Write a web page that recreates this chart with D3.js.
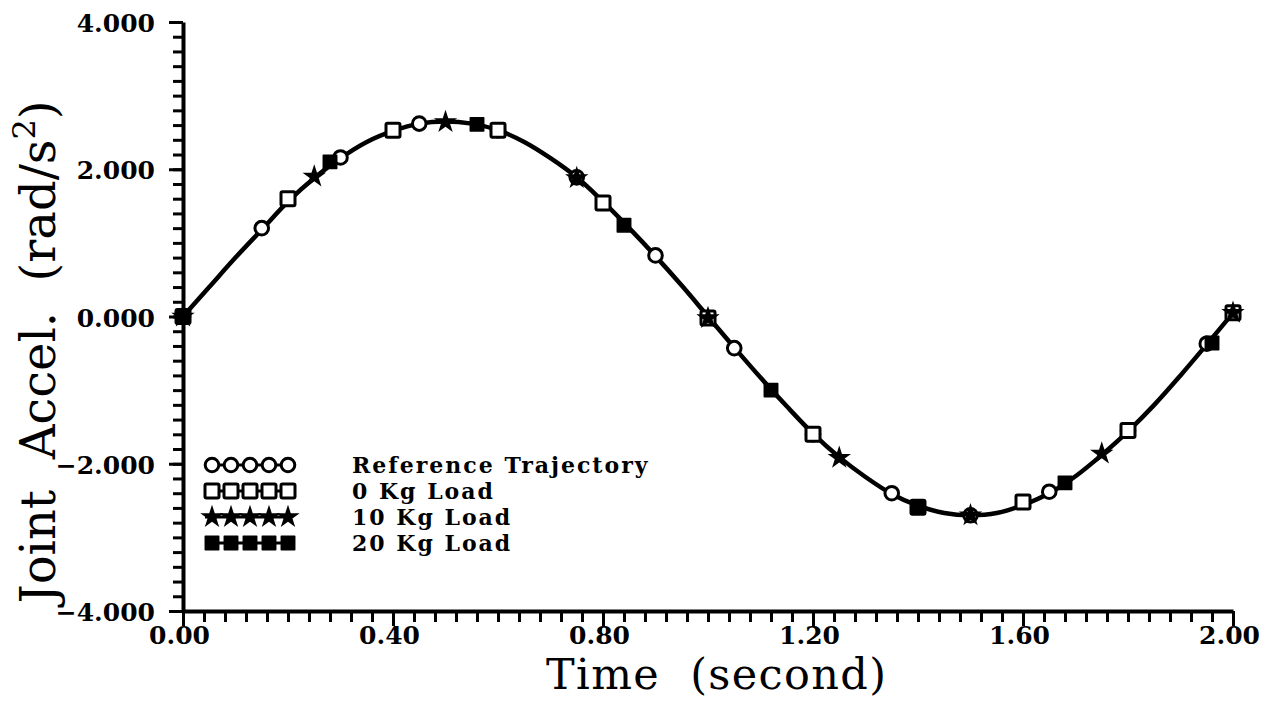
<!DOCTYPE html>
<html>
<head>
<meta charset="utf-8">
<script src="https://cdn.jsdelivr.net/npm/d3@7/dist/d3.min.js"></script>
<style>
  html, body { margin: 0; padding: 0; background: #fff; }
  svg { display: block; }
  text { white-space: pre; }
  .tick-label { font-family: "DejaVu Serif", serif; font-weight: bold; font-size: 25px; fill: #000; }
  .axis-title { font-family: "DejaVu Serif", serif; font-size: 47px; fill: #000; }
  .legend-text { font-family: "DejaVu Serif", serif; font-weight: bold; font-size: 22px; letter-spacing: 2px; fill: #000; }
</style>
</head>
<body>
<svg id="chart" width="1262" height="701" xml:space="preserve"></svg>
<script>
// Joint acceleration trajectory sampled along the motion (s, rad/s^2)
const trajTime  = [0.00, 0.05, 0.10, 0.15, 0.20, 0.25, 0.30, 0.35, 0.40, 0.45,
                   0.50, 0.55, 0.60, 0.65, 0.70, 0.75, 0.80, 0.85, 0.90, 0.95,
                   1.00, 1.05, 1.10, 1.15, 1.20, 1.25, 1.30, 1.35, 1.40, 1.45,
                   1.50, 1.55, 1.60, 1.65, 1.70, 1.75, 1.80, 1.85, 1.90, 1.95, 2.00];
const trajAccel = [0.00, 0.40, 0.80, 1.18, 1.56, 1.88, 2.15, 2.37, 2.52, 2.62,
                   2.65, 2.62, 2.53, 2.37, 2.15, 1.89, 1.56, 1.20, 0.82, 0.42,
                   0.00, -0.42, -0.83, -1.22, -1.59, -1.91, -2.18, -2.41, -2.57, -2.67,
                   -2.70, -2.67, -2.56, -2.40, -2.17, -1.88, -1.56, -1.20, -0.80, -0.38, 0.05];

// Marked samples for each case
const refTime    = [0.00, 0.15, 0.30, 0.45, 0.60, 0.75, 0.90, 1.05, 1.20, 1.35, 1.50, 1.65, 1.80, 1.95];
const refAccel   = [0.00, 1.20, 2.16, 2.62, 2.53, 1.89, 0.83, -0.43, -1.60, -2.40, -2.70, -2.38, -1.55, -0.37];

const load0Time  = [0.00, 0.20, 0.40, 0.60, 0.80, 1.00, 1.20, 1.40, 1.60, 1.80, 2.00];
const load0Accel = [0.00, 1.60, 2.53, 2.53, 1.54, -0.02, -1.60, -2.59, -2.52, -1.55, 0.05];

const load10Time  = [0.00, 0.25, 0.50, 0.75, 1.00, 1.25, 1.50, 1.75, 2.00];
const load10Accel = [0.00, 1.90, 2.64, 1.88, -0.02, -1.92, -2.70, -1.86, 0.05];

const load20Time  = [0.00, 0.28, 0.56, 0.84, 1.12, 1.40, 1.68, 1.96];
const load20Accel = [0.00, 2.10, 2.61, 1.24, -1.00, -2.59, -2.26, -0.36];

const legendLabels = ["Reference Trajectory", "0 Kg Load", "10 Kg Load", "20 Kg Load"];
const legendKinds  = ["circle", "square", "star", "filled"];

const xMajorTicks = [0.00, 0.40, 0.80, 1.20, 1.60, 2.00];
const yMajorTicks = [-4, -2, 0, 2, 4];

const svg = d3.select("#chart");

const x = d3.scaleLinear().domain([0, 2]).range([183, 1233]);
const y = d3.scaleLinear().domain([-4, 4]).range([611, 22]);

// ---- axes ----
const xMinor = d3.range(0, 51).map(i => i * 0.04);
const yMinor = d3.range(0, 41).map(i => -4 + i * 0.2);

svg.append("g")
  .attr("transform", `translate(0,${y(-4)})`)
  .call(d3.axisBottom(x).tickValues(xMinor).tickSize(11).tickSizeOuter(0).tickFormat(""))
  .call(g => g.select(".domain").attr("stroke-width", 4))
  .call(g => g.selectAll(".tick line").attr("stroke-width", 3));

svg.append("g")
  .attr("transform", `translate(0,${y(-4)})`)
  .call(d3.axisBottom(x).tickValues(xMajorTicks).tickSize(15).tickSizeOuter(0)
        .tickPadding(0).tickFormat(d3.format(".2f")))
  .call(g => g.select(".domain").remove())
  .call(g => g.selectAll(".tick line").attr("stroke-width", 3))
  .call(g => g.selectAll(".tick text").attr("class", "tick-label").attr("dx", -4).attr("dy", "0.7em"));

svg.append("g")
  .attr("transform", `translate(${x(0)},0)`)
  .call(d3.axisLeft(y).tickValues(yMinor).tickSize(10).tickSizeOuter(0).tickFormat(""))
  .call(g => g.select(".domain").attr("stroke-width", 4))
  .call(g => g.selectAll(".tick line").attr("stroke-width", 3));

svg.append("g")
  .attr("transform", `translate(${x(0)},0)`)
  .call(d3.axisLeft(y).tickValues(yMajorTicks).tickSize(14).tickSizeOuter(0)
        .tickPadding(14).tickFormat(d3.format(".3f")))
  .call(g => g.select(".domain").remove())
  .call(g => g.selectAll(".tick line").attr("stroke-width", 3))
  .call(g => g.selectAll(".tick text").attr("class", "tick-label").attr("dy", "0.38em"));

d3.selectAll(".tick-label").style("font-family", "DejaVu Serif").style("font-weight", "bold").style("font-size", "25px");

// ---- axis titles ----
svg.append("text")
  .attr("class", "axis-title")
  .attr("x", 716).attr("y", 689)
  .attr("text-anchor", "middle")
  .attr("textLength", 340)
  .attr("lengthAdjust", "spacing")
  .style("font-size", "43px")
  .text("Time  (second)");

const yt = svg.append("text")
  .attr("class", "axis-title")
  .attr("transform", "translate(55,352) rotate(-90)")
  .attr("text-anchor", "middle")
  .style("font-size", "48px");
yt.append("tspan").text("Joint  Accel.  (rad/s");
yt.append("tspan").attr("dy", -20).style("font-size", "32px").text("2");
yt.append("tspan").attr("dy", 20).text(")");

// ---- curve ----
const line = d3.line()
  .x((d, i) => x(trajTime[i]))
  .y(d => y(d))
  .curve(d3.curveCatmullRom.alpha(0.5));

svg.append("path")
  .datum(trajAccel)
  .attr("d", line)
  .attr("fill", "none")
  .attr("stroke", "#000")
  .attr("stroke-width", 4.5)
  .attr("stroke-linejoin", "round");

// ---- markers ----
const starPath = d3.symbol(d3.symbolStar).size(170)();
const filledSquare = d3.symbol(d3.symbolSquare).size(180)();

function drawMarker(g, kind, cx, cy) {
  if (kind === "circle") {
    g.append("circle").attr("cx", cx).attr("cy", cy).attr("r", 6.8)
      .attr("fill", "#fff").attr("stroke", "#000").attr("stroke-width", 3);
  } else if (kind === "square") {
    g.append("rect").attr("x", cx - 7).attr("y", cy - 7).attr("width", 14).attr("height", 14)
      .attr("rx", 1.5).attr("fill", "#fff").attr("stroke", "#000").attr("stroke-width", 3);
  } else if (kind === "star") {
    g.append("path").attr("d", starPath).attr("transform", `translate(${cx},${cy})`)
      .attr("fill", "#000");
  } else {
    g.append("path").attr("d", filledSquare).attr("transform", `translate(${cx},${cy})`)
      .attr("fill", "#000").attr("stroke", "#000").attr("stroke-width", 1.5).attr("stroke-linejoin", "round");
  }
}

const seriesMarks = [
  { kind: "circle", t: refTime,    v: refAccel },
  { kind: "square", t: load0Time,  v: load0Accel },
  { kind: "star",   t: load10Time, v: load10Accel },
  { kind: "filled", t: load20Time, v: load20Accel }
];

const markLayer = svg.append("g");
seriesMarks.forEach(s => {
  const g = markLayer.append("g");
  s.t.forEach((t, i) => drawMarker(g, s.kind, x(t), y(s.v[i])));
});

// ---- legend ----
const legend = svg.append("g");
legendLabels.forEach((label, i) => {
  const cy = 465 + i * 26;
  const g = legend.append("g");
  g.append("line").attr("x1", 205).attr("x2", 290).attr("y1", cy).attr("y2", cy)
    .attr("stroke", "#000").attr("stroke-width", 3);
  for (let k = 0; k < 5; k++) drawMarker(g, legendKinds[i], 212 + k * 19, cy);
  g.append("text").attr("class", "legend-text")
    .attr("x", 352).attr("y", cy + 8)
    .text(label);
});
</script>
</body>
</html>
